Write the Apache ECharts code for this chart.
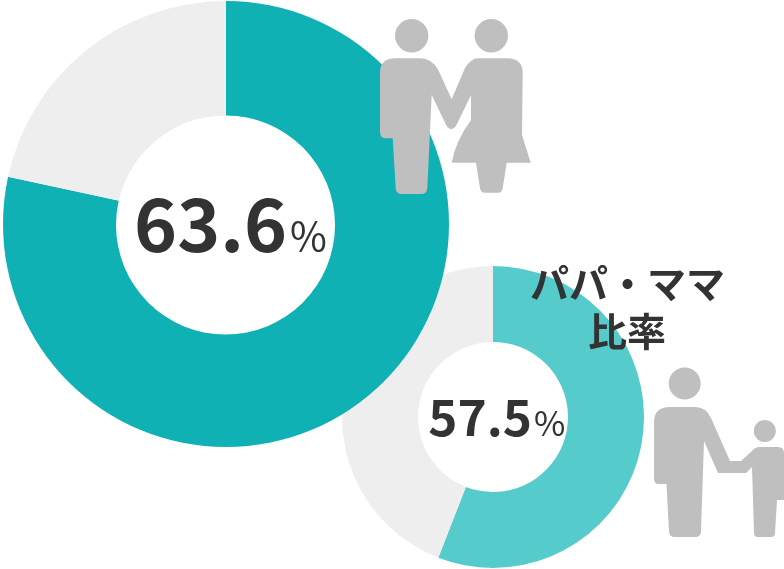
<!DOCTYPE html>
<html>
<head>
<meta charset="utf-8">
<style>
  html, body { margin: 0; padding: 0; background: #fff; }
  #chart { width: 784px; height: 569px; }
</style>
<script src="https://cdn.jsdelivr.net/npm/echarts@6/dist/echarts.min.js"></script>
</head>
<body>
<div id="chart"></div>
<script>
// shares as drawn in the picture (the arcs don't follow the printed numbers)
const ringNames = ['yes', 'no'];
const coupleRing = [78.4, 21.6];
const papaRing = [55.9, 44.1];
const coupleLabel = '63.6';
const papaLabel = '57.5';
const titleLines = ['パパ・ママ', '比率'];

const FONT = '"Noto Sans CJK JP", "Noto Sans", sans-serif';
const GREY = '#bfbfbf';
const INK = '#333333';

const couplePath = 'M395 58.3 L420 58.3 Q432 58.3 438.3 70 L451.7 99.3 L465 68 Q471 58.3 478 58.3 L506.7 58.3 Q522.7 58.3 522.7 73 ' +
  'L522 135 L530.7 162.7 L506.7 162.7 L502.7 188 Q502 192.7 498 192.7 L485 192.7 Q480.5 192.7 480 188 L476 162.7 L451.7 162.7 ' +
  'Q456 140 471 120 L471 95 L456 126 Q451.7 132 447 126.7 L431.7 95 L427.3 188 Q427 194 421 194 L402 194 Q396 194 395.7 188 ' +
  'L392.7 138.3 L386 138.3 Q380 138.3 380 132 L380 73 Q380 58.3 395 58.3 Z';
const papaPath = 'M670 407 L695 407 Q706 407 711 418 L730 461 L741 461 L752 451 Q755 447 760 447 L778 447 Q784 447 784 453 ' +
  'L784 500 L777 500 L775 533 Q775 537 771 537 L758 537 Q754 537 754 533 L752 467 L746 473 L718 473 ' +
  'L704 441 L701 531 Q701 537 695 537 L675 537 Q669 537 669 531 L666.5 484 L659 484 Q654 484 654 479 L654 422 Q654 407 670 407 Z';

echarts.graphic.registerShape('couple', echarts.graphic.extendPath(couplePath, {}));
echarts.graphic.registerShape('papa', echarts.graphic.extendPath(papaPath, {}));

function ring(center, radius, data, color) {
  return {
    type: 'pie',
    center: center,
    radius: radius,
    startAngle: 90,
    silent: true,
    label: { show: false },
    labelLine: { show: false },
    data: data.map((v, i) => ({
      value: v,
      name: ringNames[i],
      itemStyle: { color: i === 0 ? color : '#eeeeee' }
    }))
  };
}

function textEl(str, x, y, size, weight, align) {
  return {
    type: 'text', x: x, y: y, z: 20,
    style: { text: str, align: align, verticalAlign: 'middle', fontFamily: FONT, fontWeight: weight, fontSize: size, fill: INK }
  };
}

const chart = echarts.init(document.getElementById('chart'), null, { renderer: 'canvas' });
chart.setOption({
  animation: false,
  backgroundColor: '#ffffff',
  series: [
    // small one first, the big teal arc sits over its grey part
    ring([493, 417], [75, 151], papaRing, '#55cbcc'),
    ring([226, 224], [108, 223], coupleRing, '#0fb1b5')
  ],
  graphic: [
    // the big ring's hole is a little off its centre
    { type: 'circle', z: 5, shape: { cx: 225.5, cy: 225, r: 109.5 }, style: { fill: '#ffffff' } },
    { type: 'circle', z: 10, shape: { cx: 411.7, cy: 35.7, r: 16.7 }, style: { fill: GREY } },
    { type: 'circle', z: 10, shape: { cx: 491.3, cy: 35.7, r: 16.7 }, style: { fill: GREY } },
    { type: 'couple', z: 10, style: { fill: GREY } },
    { type: 'circle', z: 10, shape: { cx: 684.7, cy: 383.5, r: 16 }, style: { fill: GREY } },
    { type: 'circle', z: 10, shape: { cx: 764.8, cy: 431, r: 11 }, style: { fill: GREY } },
    { type: 'papa', z: 10, style: { fill: GREY } },
    textEl(coupleLabel, 287, 224, 73, 700, 'right'),
    textEl('%', 290, 235.5, 40, 400, 'left'),
    textEl(papaLabel, 532, 417.5, 49.5, 700, 'right'),
    textEl('%', 534, 423, 34, 400, 'left'),
    textEl(titleLines[0], 627.5, 283, 39, 700, 'center'),
    textEl(titleLines[1], 627, 331, 39, 700, 'center')
  ]
});
</script>
</body>
</html>
